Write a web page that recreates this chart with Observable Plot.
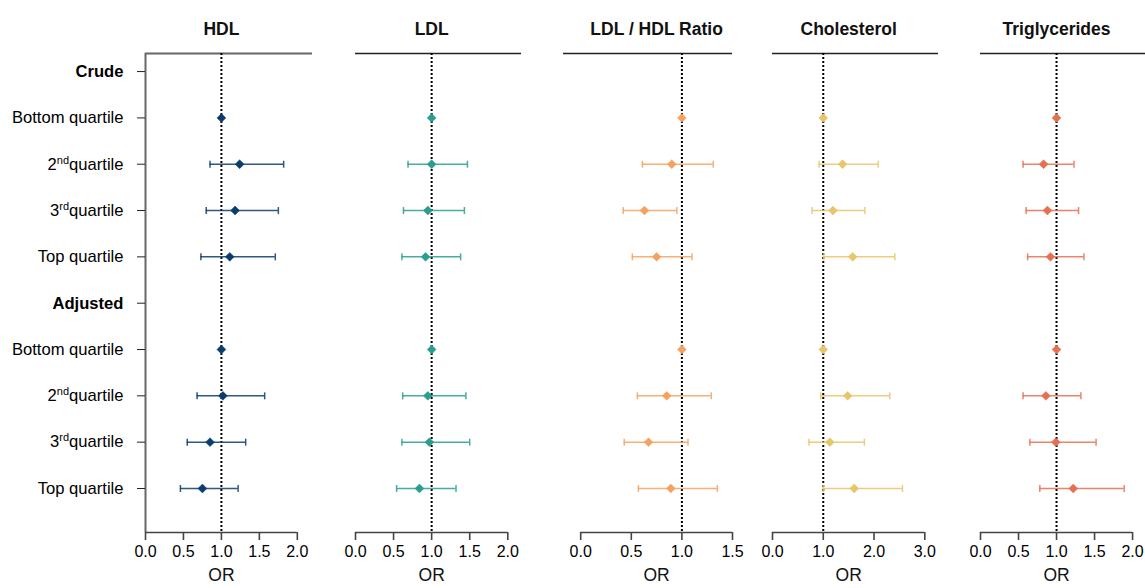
<!DOCTYPE html>
<html>
<head>
<meta charset="utf-8">
<script src="https://cdn.jsdelivr.net/npm/d3@7"></script>
<script src="https://cdn.jsdelivr.net/npm/@observablehq/plot@0.6"></script>
<style>
  html, body { margin: 0; padding: 0; background: #fff; }
  #chart { position: relative; width: 1145px; height: 588px; overflow: hidden; font-family: "Liberation Sans", Arial, sans-serif; }
  #chart svg { position: absolute; top: 0; overflow: visible; }
</style>
</head>
<body>
<div id="chart"></div>
<script>
// ---- data ----
const rowLabels = ["Crude", "Bottom quartile", "2nd quartile", "3rd quartile", "Top quartile",
                   "Adjusted", "Bottom quartile", "2nd quartile", "3rd quartile", "Top quartile"];
const headerRows = ["Crude", "Adjusted"];
const titles = ["HDL", "LDL", "LDL / HDL Ratio", "Cholesterol", "Triglycerides"];

const hdlOR = [null, 1.00, 1.24, 1.18, 1.11, null, 1.00, 1.02, 0.85, 0.75];
const hdlLo = [null, null, 0.85, 0.80, 0.73, null, null, 0.68, 0.55, 0.46];
const hdlHi = [null, null, 1.82, 1.75, 1.71, null, null, 1.57, 1.32, 1.22];

const ldlOR = [null, 1.00, 1.00, 0.95, 0.92, null, 1.00, 0.95, 0.97, 0.84];
const ldlLo = [null, null, 0.69, 0.63, 0.61, null, null, 0.62, 0.61, 0.54];
const ldlHi = [null, null, 1.47, 1.43, 1.38, null, null, 1.45, 1.50, 1.32];

const ratioOR = [null, 1.00, 0.90, 0.63, 0.75, null, 1.00, 0.85, 0.67, 0.89];
const ratioLo = [null, null, 0.61, 0.42, 0.51, null, null, 0.56, 0.43, 0.57];
const ratioHi = [null, null, 1.31, 0.95, 1.10, null, null, 1.29, 1.06, 1.35];

const cholOR = [null, 1.00, 1.38, 1.19, 1.58, null, 1.00, 1.48, 1.13, 1.61];
const cholLo = [null, null, 0.92, 0.78, 1.01, null, null, 0.95, 0.72, 1.00];
const cholHi = [null, null, 2.08, 1.82, 2.41, null, null, 2.31, 1.81, 2.56];

const trigOR = [null, 1.00, 0.83, 0.88, 0.92, null, 1.00, 0.86, 0.99, 1.22];
const trigLo = [null, null, 0.56, 0.60, 0.62, null, null, 0.56, 0.65, 0.78];
const trigHi = [null, null, 1.23, 1.29, 1.36, null, null, 1.32, 1.52, 1.89];

const hdlTicks = [0, 0.5, 1, 1.5, 2];
const ldlTicks = [0, 0.5, 1, 1.5, 2];
const ratioTicks = [0, 0.5, 1, 1.5];
const cholTicks = [0, 1, 2, 3];
const trigTicks = [0, 0.5, 1, 1.5, 2];

const colors = ["#0b3c6e", "#2a9d8f", "#f4a261", "#e9c46a", "#e76f51"];

// ---- layout ----
const W = 1145, H = 588, mTop = 53, mBottom = 56;
const frameLeft  = [145, 355, 563, 772, 980];
const frameRight = [312, 521, 732, 938, 1145];
const xDomains = [[0, 2.2], [0, 2.18], [-0.17, 1.5], [0, 3.27], [0, 2.17]];
const yDomain = [-0.39, 9.95];

const panels = [
  {or: hdlOR, lo: hdlLo, hi: hdlHi, ticks: hdlTicks},
  {or: ldlOR, lo: ldlLo, hi: ldlHi, ticks: ldlTicks},
  {or: ratioOR, lo: ratioLo, hi: ratioHi, ticks: ratioTicks},
  {or: cholOR, lo: cholLo, hi: cholHi, ticks: cholTicks},
  {or: trigOR, lo: trigLo, hi: trigHi, ticks: trigTicks}
];

const capSymbol = {
  draw(context, size) {
    const h = Math.sqrt(size / Math.PI);
    context.moveTo(0, -h);
    context.lineTo(0, h);
  }
};

const chart = document.getElementById("chart");

panels.forEach((p, k) => {
  const mL = k === 0 ? 145 : 30;
  const mR = k === 4 ? 0 : 12;
  const width = mL + (frameRight[k] - frameLeft[k]) + mR;
  const rows = rowLabels.map((label, i) => ({i, label, or: p.or[i], lo: p.lo[i], hi: p.hi[i]}));
  const pts = rows.filter(d => d.or != null);
  const cis = rows.filter(d => d.lo != null);
  const t0 = d3.min(p.ticks), t1 = d3.max(p.ticks), mid = (t0 + t1) / 2;
  const col = colors[k];

  const marks = [
    Plot.ruleY([yDomain[0]], {stroke: k === 0 ? "#666" : "#222", strokeWidth: k === 0 ? 2 : 1.3}),
    Plot.ruleY([yDomain[1]], {x1: t0, x2: t1, stroke: "#444", strokeWidth: 1.6}),
    Plot.axisX({ticks: p.ticks, tickFormat: d3.format(".1f"), tickSize: 8, tickPadding: 5,
                fontSize: 16, stroke: "#444", strokeWidth: 1.6, label: null}),
    Plot.ruleX([1], {stroke: "#000", strokeWidth: 2, strokeDasharray: "2,2"}),
    Plot.ruleY(cis, {y: "i", x1: "lo", x2: "hi", stroke: col, strokeWidth: 1.5, strokeOpacity: 0.85}),
    Plot.dot(cis, {x: "lo", y: "i", symbol: capSymbol, r: 3.5, stroke: col, strokeWidth: 1.5, strokeOpacity: 0.85, fill: "none"}),
    Plot.dot(cis, {x: "hi", y: "i", symbol: capSymbol, r: 3.5, stroke: col, strokeWidth: 1.5, strokeOpacity: 0.85, fill: "none"}),
    Plot.dot(pts, {x: "or", y: "i", symbol: "diamond2", r: 4, fill: col, stroke: col, strokeWidth: 0.5}),
    Plot.text([titles[k]], {x: mid, frameAnchor: "top", dy: 22 - mTop, fontSize: 17.5, fontWeight: "bold", fill: "#111"}),
    Plot.text(["OR"], {x: mid, frameAnchor: "bottom", dy: 580 - (H - mBottom), fontSize: 17.5, fill: "#111"})
  ];
  if (k === 0) {
    marks.unshift(Plot.ruleX([xDomains[0][0]], {stroke: "#666", strokeWidth: 2}));
    marks.push(Plot.axisY({ticks: d3.range(rowLabels.length), tickFormat: i => rowLabels[i],
                           tickSize: 8, tickPadding: 14, fontSize: 16.6, stroke: "#222", label: null}));
  }

  const svg = Plot.plot({
    width, height: H,
    marginLeft: mL, marginRight: mR, marginTop: mTop, marginBottom: mBottom,
    style: {fontFamily: "Liberation Sans, Arial, sans-serif", background: "transparent", overflow: "visible"},
    x: {domain: xDomains[k], axis: null},
    y: {domain: yDomain, reverse: true, axis: null},
    marks
  });
  svg.style.left = (frameLeft[k] - mL) + "px";

  if (k === 0) {
    d3.select(svg).selectAll("text").each(function() {
      const el = d3.select(this);
      const txt = this.textContent;
      if (headerRows.includes(txt)) el.attr("font-weight", "bold");
      const m = /^(\d)(nd|rd|th) (.*)$/.exec(txt);
      if (m) {
        el.text(null);
        el.append("tspan").text(m[1]);
        el.append("tspan").attr("dy", "-6px").attr("font-size", "11px").text(m[2]);
        el.append("tspan").attr("dy", "6px").text(m[3]);
      }
    });
  }
  chart.appendChild(svg);
});
</script>
</body>
</html>
